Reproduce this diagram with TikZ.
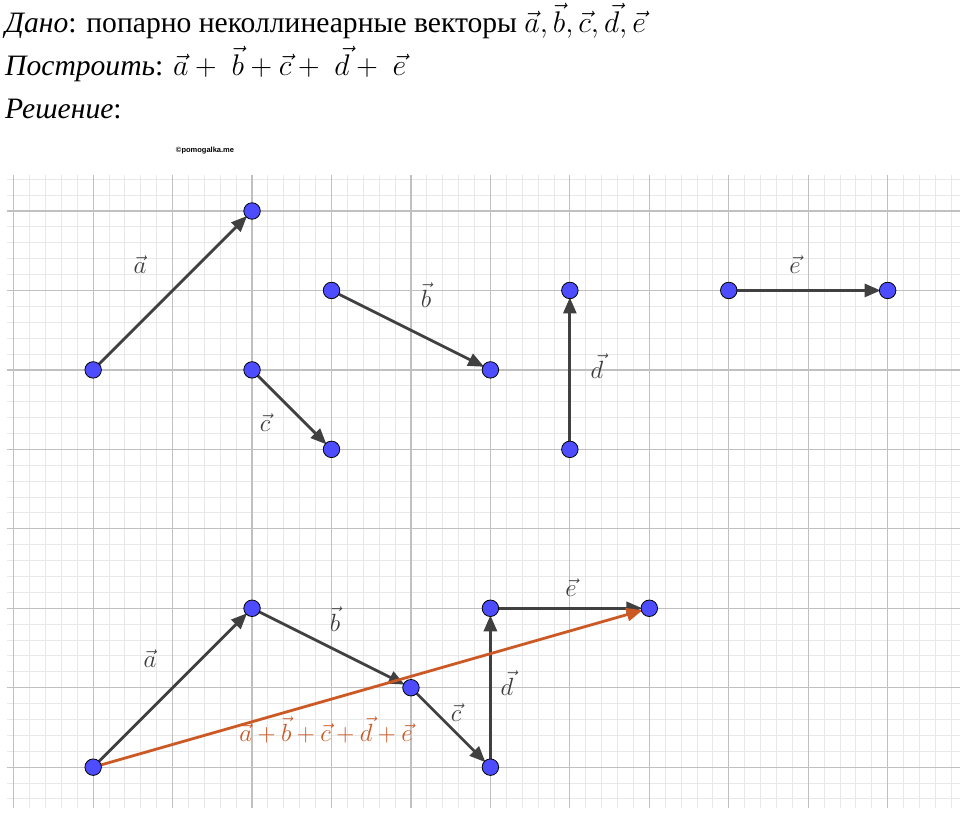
\documentclass[tikz,border=0pt]{standalone}
\usepackage{graphicx}
\usepackage[no-math]{fontspec}
\setmainfont{Liberation Serif}
\newfontfamily\wmfont{Liberation Sans}
\usetikzlibrary{arrows.meta}
\definecolor{ptblue}{RGB}{77,77,255}
\definecolor{vecgray}{RGB}{64,64,64}
\definecolor{sumorange}{RGB}{204,88,36}
\definecolor{minorgrid}{RGB}{232,232,232}
\definecolor{majorgrid}{RGB}{192,192,192}
\definecolor{labgray}{RGB}{60,60,60}
\pgfdeclarelayer{gridlayer}
\pgfdeclarelayer{veclayer}
\pgfsetlayers{gridlayer,veclayer,main}
\newcommand{\bigmath}[1]{\scalebox{1.2}{$#1$}}
\tikzset{
  pt/.style={circle,fill=ptblue,draw=black,line width=0.8pt,minimum size=16.5pt,inner sep=0pt},
  vecarrow/.style={draw=vecgray,line width=2.8pt,-{Triangle[length=16pt,width=13pt]},shorten >=7pt,shorten <=2pt},
  sumarrow/.style={draw=sumorange,line width=2.8pt,-{Triangle[length=16pt,width=13pt]},shorten >=7pt,shorten <=2pt},
  veclab/.style={text=labgray,font=\fontsize{25}{28}\selectfont,inner sep=0pt},
  sumlab/.style={text=sumorange,font=\fontsize{25}{28}\selectfont,inner sep=0pt},
  titletext/.style={anchor=base west,inner sep=0pt,font=\fontsize{29.6}{34}\selectfont},
}
\begin{document}
\begin{tikzpicture}[x=1pt,y=-1pt]
\useasboundingbox (0,0) rectangle (960,812);
\begin{pgfonlayer}{gridlayer}
\fill[white] (0,0) rectangle (960,812);
\foreach \k in {0,...,59}{
  \draw[minorgrid,line width=0.9pt] ({13.7+15.89*\k},175) -- ({13.7+15.89*\k},808);
}
\foreach \k in {0,...,39}{
  \draw[minorgrid,line width=0.9pt] (7,{179.2+15.89*\k}) -- (960,{179.2+15.89*\k});
}
\foreach \i in {0,...,11}{
  \draw[majorgrid,line width=1.2pt] ({13.7+79.45*\i},175) -- ({13.7+79.45*\i},808);
}
\foreach \j in {0,...,7}{
  \draw[majorgrid,line width=1.2pt] (7,{211+79.45*\j}) -- (960,{211+79.45*\j});
}
\end{pgfonlayer}
% title
\node[titletext] (t1) at (5,32) {\textit{Дано}: попарно неколлинеарные векторы \bigmath{\vec{a},\vec{b},\vec{c},\vec{d},\vec{e}}};
\node[titletext] (t2) at (5,75) {\textit{Построить}: \bigmath{\vec{a}+\;\vec{b}+\vec{c}+\;\vec{d}+\;\vec{e}}};
\node[titletext] (t3) at (5,118) {\textit{Решение}:};
\node[inner sep=0pt,font=\wmfont\bfseries\fontsize{7.5}{9}\selectfont] (wm) at (205,151) {©pomogalka.me};
% top points
\node[pt] (a1) at (93.15,369.9) {};
\node[pt] (a2) at (252.05,211) {};
\node[pt] (b1) at (331.5,290.45) {};
\node[pt] (b2) at (490.4,369.9) {};
\node[pt] (c1) at (252.05,369.9) {};
\node[pt] (c2) at (331.5,449.35) {};
\node[pt] (d1) at (569.85,449.35) {};
\node[pt] (d2) at (569.85,290.45) {};
\node[pt] (e1) at (728.75,290.45) {};
\node[pt] (e2) at (887.65,290.45) {};
% bottom points
\node[pt] (P0) at (93.15,767.15) {};
\node[pt] (P1) at (252.05,608.25) {};
\node[pt] (P2) at (410.95,687.7) {};
\node[pt] (P3) at (490.4,767.15) {};
\node[pt] (P4) at (490.4,608.25) {};
\node[pt] (P5) at (649.3,608.25) {};
\begin{pgfonlayer}{veclayer}
\draw[vecarrow] (a1.center) -- (a2.center);
\draw[vecarrow] (b1.center) -- (b2.center);
\draw[vecarrow] (c1.center) -- (c2.center);
\draw[vecarrow] (d1.center) -- (d2.center);
\draw[vecarrow] (e1.center) -- (e2.center);
\draw[vecarrow] (P0.center) -- (P1.center);
\draw[vecarrow] (P1.center) -- (P2.center);
\draw[vecarrow] (P2.center) -- (P3.center);
\draw[vecarrow] (P3.center) -- (P4.center);
\draw[vecarrow] (P4.center) -- (P5.center);
\draw[sumarrow] (P0.center) -- (P5.center);
\end{pgfonlayer}
% labels
\node[veclab] (la) at (140,265) {$\vec{a}$};
\node[veclab] (lb) at (426,295) {$\vec{b}$};
\node[veclab] (lc) at (265,423) {$\vec{c}$};
\node[veclab] (ld) at (597,366) {$\vec{d}$};
\node[veclab] (le) at (795,265) {$\vec{e}$};
\node[veclab] (La) at (150,659) {$\vec{a}$};
\node[veclab] (Lb) at (335,619) {$\vec{b}$};
\node[veclab] (Lc) at (456,713) {$\vec{c}$};
\node[veclab] (Ld) at (507,683) {$\vec{d}$};
\node[veclab] (Le) at (571,588) {$\vec{e}$};
\node[sumlab] (Ls) at (326,730) {$\vec{a}+\vec{b}+\vec{c}+\vec{d}+\vec{e}$};
\end{tikzpicture}
\end{document}
